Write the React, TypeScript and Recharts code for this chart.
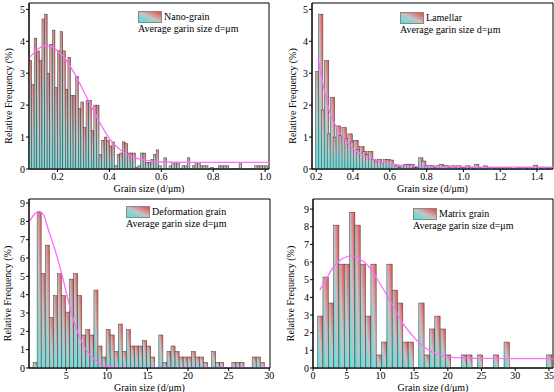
import { ComposedChart, Bar, Line, XAxis, YAxis, Legend, ReferenceArea } from 'recharts'

const FONT = '"Liberation Serif", "Times New Roman", serif'

// Nano-grain: bins of 0.01 starting at 0.095
const nanoStart = 0.095
const nanoStep = 0.01
const nanoFreq = [
  3.4, 2.65, 4.1, 3.7, 3.4, 4.7, 4.85, 3.0, 3.9, 4.35,
  2.55, 3.7, 4.3, 3.7, 2.5, 3.5, 2.3, 2.3, 2.9, 1.9,
  2.1, 1.3, 2.15, 2.15, 1.2, 2.0, 2.0, 0.45, 0.9, 1.0,
  0.9, 0.72, 0.85, 0.1, 0.45, 0.5, 0.85, 0.8, 0.5, 0.5,
  0.5, 0.05, 0.1, 0.5, 0.5, 0.2, 0.2, 0.3, 0.45, 0.6,
  0.1, 0, 0.35, 0, 0.1, 0.2, 0.2, 0.2, 0, 0.1,
  0.1, 0.35, 0, 0.1, 0.2, 0.2, 0.1, 0.1, 0.1, 0,
  0.05, 0, 0, 0.1, 0.1, 0.1, 0.1, 0, 0, 0,
  0, 0.2, 0, 0, 0, 0, 0, 0.1, 0.1, 0.1,
  0.1, 0.1,
]
const nanoFitX = [0.09, 0.1, 0.125, 0.15, 0.175, 0.2, 0.225, 0.25, 0.275, 0.3, 0.325, 0.35, 0.375, 0.4, 0.425, 0.45, 0.5, 0.55, 0.6, 0.7, 0.8, 0.9, 1.015]
const nanoFitY = [3.48, 3.56, 3.76, 3.86, 3.84, 3.7, 3.5, 3.2, 2.85, 2.45, 2.05, 1.65, 1.28, 0.95, 0.72, 0.55, 0.35, 0.26, 0.22, 0.21, 0.21, 0.21, 0.21]

// Lamellar
const lamStart = 0.208
const lamStep = 0.016
const lamFreq = [
  3.05, 4.85, 1.85, 3.4, 1.1, 2.25, 1.0, 1.35, 1.05, 1.3,
  0.95, 1.1, 0.85, 0.9, 0.6, 0.7, 0.55, 0.45, 0.55, 0.3,
  0.25, 0.3, 0.2, 0.3, 0.3, 0.28, 0.15, 0.1, 0.05, 0.1,
  0.15, 0.15, 0.15, 0.05, 0.05, 0.35, 0.25, 0.1, 0.1, 0.1,
  0.05, 0.1, 0.15, 0.1, 0.1, 0.05, 0.1, 0.05, 0.1, 0.05,
  0.05, 0.1, 0.05, 0, 0.15, 0.05, 0, 0.1, 0.05, 0.05,
  0, 0.05, 0.05, 0, 0.05, 0.05, 0, 0, 0.05, 0.05,
  0.05, 0, 0.05, 0, 0.12, 0.05, 0, 0.05, 0, 0.05,
]
const lamFitX = [0.21, 0.23, 0.25, 0.275, 0.3, 0.33, 0.36, 0.4, 0.45, 0.5, 0.55, 0.6, 0.7, 0.8, 1.0, 1.2, 1.487]
const lamFitY = [3.44, 2.85, 2.3, 1.75, 1.42, 1.12, 0.9, 0.64, 0.45, 0.33, 0.22, 0.16, 0.1, 0.08, 0.065, 0.06, 0.06]

// Deformation grain
const defStart = 1.15
const defStep = 0.5
const defFreq = [
  0.3, 8.5, 5.15, 6.7, 2.75, 3.95, 5.15, 3.95, 3.05, 4.85,
  5.15, 3.95, 1.8, 2.1, 1.8, 4.25, 1.2, 0.6, 2.1, 1.8,
  0.9, 2.4, 0.9, 2.1, 1.2, 1.2, 1.2, 1.5, 1.2, 0.6,
  0, 1.8, 0.3, 0.9, 1.2, 0.9, 0.6, 0.6, 0.6, 0.9,
  0.6, 0.6, 0.3, 0, 0.9, 0.3, 0.3, 0, 0, 0.3,
  0.3, 0.3, 0, 0, 0.6, 0.6, 0.3,
]
const defFitX = [0.4, 1.0, 1.6, 2.2, 2.75, 3.2, 3.6, 4.0, 4.4, 5.0, 5.6, 6.4, 7.0, 7.7, 8.5, 9.3, 10.5, 12, 30.1]
const defFitY = [7.95, 8.35, 8.54, 8.35, 7.6, 7.0, 6.45, 5.85, 5.2, 4.1, 3.05, 1.95, 1.35, 0.82, 0.45, 0.19, 0.04, 0, 0]

// Matrix grain
const matStart = 1.08
const matStep = 0.79
const matFreq = [
  2.94, 5.15, 3.68, 8.09, 5.88, 5.88, 8.82, 8.09, 5.88, 2.94,
  5.88, 0.74, 1.47, 5.88, 4.41, 3.68, 1.47, 1.47, 0, 3.68,
  0.74, 2.21, 2.94, 2.21, 0.74, 0, 0, 0.74, 0.74, 0,
  0.74, 0, 0, 0.74, 0, 1.47, 0, 0, 0, 0,
  0, 0, 0, 0.74,
]
const matFitX = [1.0, 2, 2.8, 3.5, 4.2, 5, 5.5, 6.2, 7, 8.2, 9.4, 10.6, 11.9, 13.1, 14.6, 16.1, 17.6, 19, 20.5, 22.2, 25, 30, 35.6]
const matFitY = [4.41, 5.05, 5.6, 5.92, 6.16, 6.3, 6.35, 6.32, 6.16, 5.78, 5.11, 4.36, 3.5, 2.65, 1.9, 1.3, 0.93, 0.72, 0.62, 0.57, 0.54, 0.53, 0.53]

const yTicks9 = [0, 1, 2, 3, 4, 5, 6, 7, 8, 9]
const yTicks5 = [0, 1, 2, 3, 4, 5]

type PanelCfg = {
  id: string
  name: string
  left: number
  top: number
  margin: { top: number; right: number; bottom: number; left: number }
  yAxisWidth: number
  xAxisHeight: number
  xDomain: [number, number]
  xTicks: number[]
  decimals: number
  yDomain: [number, number]
  yTicks: number[]
  start: number
  step: number
  freq: number[]
  fitX: number[]
  fitY: number[]
  barWidth: number
  legendLeft: number
  legendTop: number
  yTitleX: number
}

const panels: PanelCfg[] = [
  {
    id: 'nano', name: 'Nano-grain', left: 0, top: 0,
    margin: { top: 3, right: 8, bottom: 0, left: 0 }, yAxisWidth: 29, xAxisHeight: 27,
    xDomain: [0.09, 1.015], xTicks: [0.2, 0.4, 0.6, 0.8, 1.0], decimals: 1,
    yDomain: [0, 5.2], yTicks: yTicks5,
    start: nanoStart, step: nanoStep, freq: nanoFreq, fitX: nanoFitX, fitY: nanoFitY,
    barWidth: 2.6, legendLeft: 138, legendTop: 11, yTitleX: 8,
  },
  {
    id: 'lam', name: 'Lamellar', left: 277, top: 0,
    margin: { top: 3, right: 1, bottom: 0, left: 0 }, yAxisWidth: 35, xAxisHeight: 27,
    xDomain: [0.177, 1.487], xTicks: [0.2, 0.4, 0.6, 0.8, 1.0, 1.2, 1.4], decimals: 1,
    yDomain: [0, 5.2], yTicks: yTicks5,
    start: lamStart, step: lamStep, freq: lamFreq, fitX: lamFitX, fitY: lamFitY,
    barWidth: 4.5, legendLeft: 123, legendTop: 12, yTitleX: 15,
  },
  {
    id: 'def', name: 'Deformation grain', left: 0, top: 196,
    margin: { top: 3, right: 7, bottom: 0, left: 0 }, yAxisWidth: 29, xAxisHeight: 24,
    xDomain: [0.4, 30.1], xTicks: [5, 10, 15, 20, 25, 30], decimals: 0,
    yDomain: [0, 9.22], yTicks: yTicks9,
    start: defStart, step: defStep, freq: defFreq, fitX: defFitX, fitY: defFitY,
    barWidth: 4.05, legendLeft: 126, legendTop: 10, yTitleX: 7,
  },
  {
    id: 'mat', name: 'Matrix grain', left: 277, top: 196,
    margin: { top: 3, right: 1, bottom: 0, left: 0 }, yAxisWidth: 36, xAxisHeight: 24,
    xDomain: [0, 35.6], xTicks: [0, 5, 10, 15, 20, 25, 30, 35], decimals: 0,
    yDomain: [0, 9.57], yTicks: yTicks9,
    start: matStart, step: matStep, freq: matFreq, fitX: matFitX, fitY: matFitY,
    barWidth: 5.3, legendLeft: 136, legendTop: 12, yTitleX: 13,
  },
]

const tickStyle = { fill: '#000', fontSize: 10, fontFamily: FONT }

function YTitle({ viewBox, dx }: any) {
  const cx = viewBox.x + dx
  const cy = viewBox.y + viewBox.height / 2 + 10
  return (
    <text x={cx} y={cy} transform={`rotate(-90 ${cx} ${cy})`} textAnchor="middle" dominantBaseline="central" fontSize={10} fill="#000" fontFamily={FONT}>
      Relative Frequency (%)
    </text>
  )
}

function XTitle({ viewBox }: any) {
  const cx = viewBox.x + viewBox.width / 2
  const cy = viewBox.y + 19
  return (
    <text x={cx} y={cy} textAnchor="middle" dominantBaseline="central" fontSize={10} fill="#000" fontFamily={FONT}>
      Grain size (d/μm)
    </text>
  )
}

function LegendBox({ name }: { name: string }) {
  return (
    <div style={{ fontFamily: FONT, fontSize: 10, color: '#000', lineHeight: '12px', whiteSpace: 'nowrap' }}>
      <div style={{ display: 'flex', alignItems: 'center', height: 12 }}>
        <span
          style={{
            display: 'inline-block', width: 22, height: 10, marginRight: 2,
            background: 'linear-gradient(to top right, #3fe6e6 0%, #c4c4c4 50%, #f24444 100%)',
            border: '0.5px solid #888',
          }}
        />
        <span>{name}</span>
      </div>
      <div>Average garin size d=μm</div>
    </div>
  )
}

function Panel({ cfg }: { cfg: PanelCfg }) {
  const rows = cfg.freq
    .map((v, i) => ({ x: cfg.start + cfg.step * i, freq: v }))
    .filter((r) => r.freq > 0)
  const fit = cfg.fitX.map((x, i) => ({ x, fit: cfg.fitY[i] }))
  const gradId = `grad-${cfg.id}`
  const w = cfg.barWidth

  const barShape = (p: any) => {
    const { x, y, width, height } = p
    if (!height || height <= 0) return <g />
    const cx = x + width / 2
    return (
      <rect x={cx - w / 2} y={y} width={w} height={height} fill={`url(#${gradId})`} stroke="#3a3a3a" strokeWidth={0.5} />
    )
  }

  return (
    <div style={{ position: 'absolute', left: cfg.left, top: cfg.top, fontFamily: FONT }}>
      <ComposedChart width={277} height={196} data={rows} margin={cfg.margin}>
        <defs>
          <linearGradient id={gradId} x1="0" y1="1" x2="1" y2="0">
            <stop offset="0%" stopColor="#3fe6e6" />
            <stop offset="50%" stopColor="#c4c4c4" />
            <stop offset="100%" stopColor="#f24444" />
          </linearGradient>
        </defs>
        <XAxis
          dataKey="x"
          type="number"
          domain={cfg.xDomain}
          ticks={cfg.xTicks}
          interval={0}
          allowDataOverflow
          height={cfg.xAxisHeight}
          tickSize={3}
          tickMargin={1}
          stroke="#000"
          tick={tickStyle}
          tickFormatter={(v: number) => v.toFixed(cfg.decimals)}
          label={<XTitle />}
        />
        <YAxis
          type="number"
          domain={cfg.yDomain}
          ticks={cfg.yTicks}
          interval={0}
          allowDataOverflow
          width={cfg.yAxisWidth}
          tickSize={3}
          tickMargin={1}
          stroke="#000"
          tick={tickStyle}
          label={<YTitle dx={cfg.yTitleX} />}
        />
        <Bar dataKey="freq" isAnimationActive={false} shape={barShape} />
        <Line
          data={fit}
          dataKey="fit"
          type="monotone"
          stroke="#ff6cff"
          strokeWidth={1.3}
          dot={false}
          activeDot={false}
          isAnimationActive={false}
        />
        <ReferenceArea
          x1={cfg.xDomain[0]}
          x2={cfg.xDomain[1]}
          y1={cfg.yDomain[0]}
          y2={cfg.yDomain[1]}
          fill="none"
          stroke="#000"
          strokeWidth={1}
          strokeOpacity={1}
        />
        <Legend
          layout="vertical"
          verticalAlign="middle"
          align="center"
          wrapperStyle={{ left: cfg.legendLeft, top: cfg.legendTop, width: 'auto' }}
          content={() => <LegendBox name={cfg.name} />}
        />
      </ComposedChart>
    </div>
  )
}

export default function App() {
  return (
    <div style={{ position: 'absolute', left: 0, top: 0, width: 554, height: 392, background: '#fff' }}>
      {panels.map((p) => (
        <Panel key={p.id} cfg={p} />
      ))}
    </div>
  )
}
